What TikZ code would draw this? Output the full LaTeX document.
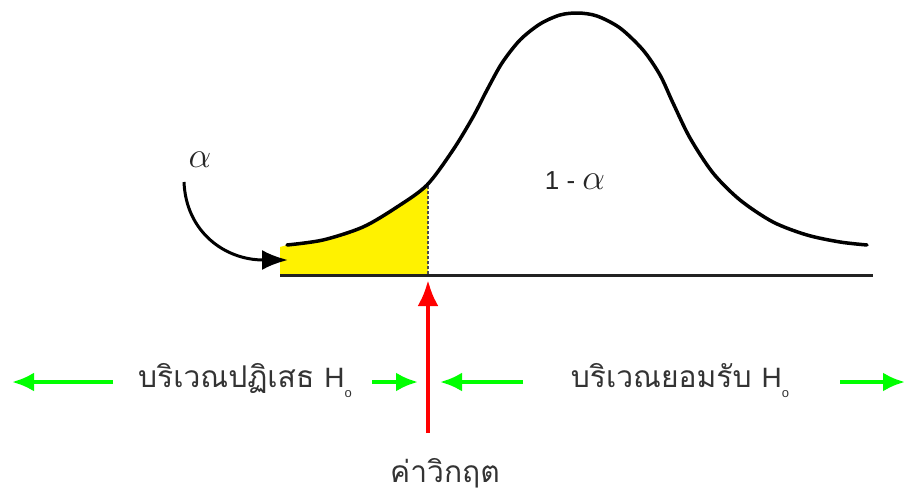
\RequirePackage{fix-cm}
\documentclass[tikz,border=0pt]{standalone}
\usepackage{fontspec}
\setmainfont{Liberation Sans}
\newfontfamily\thaifont[Script=Thai]{Loma}
\usetikzlibrary{arrows.meta}
\definecolor{gline}{RGB}{0,255,0}
\definecolor{rline}{RGB}{255,0,0}
\definecolor{axisc}{RGB}{34,34,34}
\tikzset{
  garrow/.style={draw=gline,line width=4pt,-{Latex[length=22pt,width=19pt]}},
  rarrow/.style={draw=rline,line width=4.5pt,-{Latex[length=26pt,width=21pt]}},
  curveline/.style={draw=black,line width=3.5pt,line cap=round,line join=round},
  thlabel/.style={font=\thaifont\fontsize{30}{32}\selectfont,text=black!80,inner sep=0pt},
  greek/.style={font=\fontsize{36}{38}\selectfont,inner sep=0pt,text=black!85},
}
\newcommand{\hsub}{\fontspec{Liberation Sans}\fontsize{28}{30}\selectfont H\raisebox{-10pt}{\fontsize{13}{13}\selectfont o}}
\newcommand{\curvepts}{(287,245) (323,240) (363,227) (397,207) (427,185) (453,150) (473,117) (487,90) (502,63) (520,40) (540,24) (560,15) (578,13) (597,16) (620,28) (643,50) (660,75) (673,103) (690,138) (713,173) (740,200) (773,222) (807,235) (840,242) (867,245)}
\begin{document}
\begin{tikzpicture}[x=1pt,y=-1pt]
\useasboundingbox (0,0) rectangle (905,498);
% yellow tail
\begin{scope}
\clip (280,150) rectangle (428,275);
\fill[yellow] (280,247) -- plot[smooth,tension=0.5] coordinates {\curvepts}
  -- (867,275) -- (280,275) -- cycle;
\end{scope}
% dashed critical line
\coordinate (cT) at (428,186);
\coordinate (cB) at (428,275);
\draw[black!70,line width=1.5pt,dash pattern=on 3pt off 2pt] (cT) -- (cB);
% axis
\coordinate (axL) at (280,275);
\coordinate (axR) at (873,275);
\draw[axisc,line width=3pt] (axL) -- (axR);
% density curve
\draw[curveline] plot[smooth,tension=0.5] coordinates {\curvepts};
% labels in the plot
\node[greek] (alpha) at (200,160) {$\alpha$};
\node[font=\fontsize{26}{28}\selectfont,inner sep=0pt,text=black!85] (onem) at (575,181) {1 - {\fontsize{36}{38}\selectfont$\alpha$}};
\coordinate (aS) at (184,182);
\coordinate (aE) at (288,260);
\draw[black,line width=3pt,-{Latex[length=26pt,width=20pt]}] (aS) .. controls (186,232) and (225,260) .. (aE);
% red critical arrow
\coordinate (rB) at (428,433);
\coordinate (rT) at (428,280);
\draw[rarrow] (rB) -- (rT);
% region labels
\node[thlabel] (rej) at (245,381) {บริเวณปฏิเสธ \hsub};
\node[thlabel] (acc) at (680,381) {บริเวณยอมรับ \hsub};
\node[thlabel] (crit) at (445,473) {ค่าวิกฤต};
% green arrows
\coordinate (gL1) at (12,382);
\coordinate (gL2s) at (113,382);
\coordinate (gR1s) at (372,382);
\coordinate (gR1) at (418,382);
\coordinate (gL2s2) at (523,382);
\coordinate (gL2) at (440,382);
\coordinate (gR2s) at (840,382);
\coordinate (gR2) at (905,382);
\draw[garrow] (gL2s) -- (gL1);
\draw[garrow] (gR1s) -- (gR1);
\draw[garrow] (gL2s2) -- (gL2);
\draw[garrow] (gR2s) -- (gR2);
\end{tikzpicture}
\end{document}
